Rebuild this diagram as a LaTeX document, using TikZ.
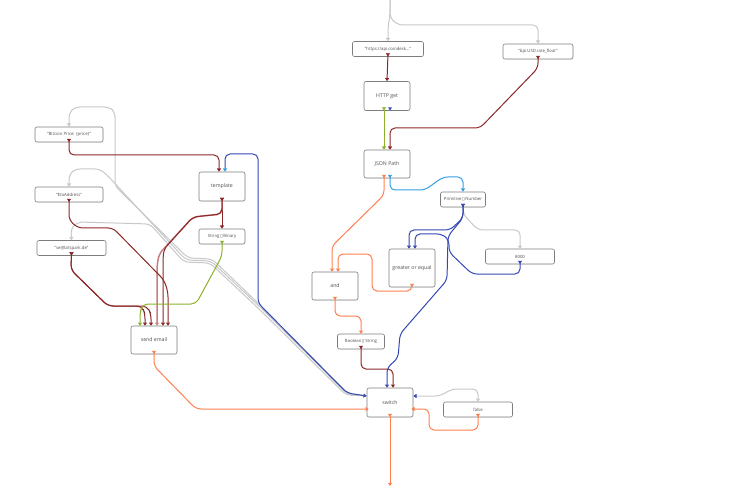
\documentclass[tikz,border=0pt]{standalone}
\usepackage{fontspec}
\setmainfont{Open Sans}
\newfontfamily\glyphfont{DejaVu Sans}
\usetikzlibrary{arrows.meta,shadows}

\definecolor{boxline}{RGB}{125,125,125}
\definecolor{boxtext}{RGB}{80,80,80}
\definecolor{wirered}{RGB}{140,38,38}
\definecolor{wirepink}{RGB}{200,125,125}
\definecolor{wiregreen}{RGB}{140,176,42}
\definecolor{wirecyan}{RGB}{52,160,230}
\definecolor{wireblue}{RGB}{52,72,180}
\definecolor{wireorange}{RGB}{255,127,80}
\definecolor{wiregrey}{RGB}{200,200,200}

\newcommand{\nochar}{{\glyphfont\char"25AF}}

\tikzset{
  block/.style={draw=boxline, fill=white, rounded corners=2pt, line width=0.6pt,
    inner sep=0pt, text=boxtext,
    drop shadow={shadow xshift=0.4pt, shadow yshift=-0.6pt, opacity=0.12}},
  bigblock/.style={block, minimum width=46pt, minimum height=29pt,
    font=\fontsize{5.2}{6}\selectfont},
  smallblock/.style={block, minimum width=69pt, minimum height=15pt,
    font=\fontsize{4.3}{5}\selectfont},
  >={Triangle[length=3.2pt,width=4pt]},
  wire/.style={line width=1pt, rounded corners=5pt, ->},
  owire/.style={wire, >->},
  gwire/.style={wire, draw=wiregrey},
}

\begin{document}
\begin{tikzpicture}[x=1pt, y=-1pt]
\useasboundingbox (0,0) rectangle (754,486);

% blocks
\node[smallblock, minimum width=71pt] (url) at (388,49) {"https://api.coindesk..."};
\node[smallblock, minimum width=70pt] (rate) at (538,51.5) {"bpi.USD.rate\_float"};
\node[bigblock] (httpget) at (387,96) {HTTP get};
\node[bigblock, minimum height=28pt] (json) at (387,164) {JSON Path};
\node[smallblock, minimum width=45pt] (prim) at (463,199.5) {Primitive\,\nochar\,Number};
\node[smallblock] (eight) at (520,256.5) {8000};
\node[bigblock, minimum height=38pt] (gte) at (412,268) {greater or equal};
\node[bigblock, minimum height=28pt] (andn) at (335,286) {and};
\node[smallblock, minimum width=47pt] (b2s) at (361,341.5) {Boolean\,\nochar\,String};
\node[bigblock] (switch) at (390,402.5) {switch};
\node[smallblock] (falsen) at (478,409.5) {false};
\node[smallblock, minimum width=68pt] (bitcoin) at (69,134.5) {"Bitcoin Price: \{price\}"};
\node[smallblock, minimum width=68pt] (toaddr) at (69,194.5) {"\$toAddress"};
\node[smallblock] (fromaddr) at (71.5,248) {"se@bitspark.de"};
\node[bigblock] (template) at (222,186.5) {template};
\node[smallblock, minimum width=46pt] (s2b) at (222,236.5) {String\,\nochar\,Binary};
\node[bigblock, minimum height=28pt] (send) at (154,340) {send email};

\coordinate (feed) at (390,0);

% grey wires
\draw[gwire] (feed) -- (390,15) -- (388,27) -- (url.north);
\draw[gwire] (feed) -- (390,18) -- (398,25) -- (538,25) -- (rate.north);
\draw[gwire] ([yshift=6.5pt]switch.west) -- (347,393) -- (259,304) -- (212,259) -- (188,258)
  -- (115,186) -- (115,112) -- (109,107) -- (75,107) -- (69,113) -- (bitcoin.north);
\draw[gwire] ([yshift=6.5pt]switch.west) -- (347,394) -- (259,306) -- (211,261) -- (186,260)
  -- (108,176) -- (100,169) -- (75,169) -- (69,175) -- (toaddr.north);
\draw[gwire] ([yshift=6.5pt]switch.west) -- (346,395) -- (258,308) -- (210,263) -- (184,262)
  -- (150,224) -- (78,222) -- (71,228) -- (fromaddr.north);
\draw[gwire] ([yshift=3.5pt]prim.south) -- (463,214) -- (478,230) -- (520,230) -- (eight.north);
\draw[gwire, {Triangle[length=3.2pt,width=4pt,color=wireblue]}->]
  ([yshift=6.5pt]switch.east) -- (440,396) -- (452,389) -- (478,389) -- (falsen.north);

% red wires
\draw[owire, wirered] ([yshift=3.5pt]url.south) -- (httpget.north);
\draw[owire, wirered] ([yshift=3.5pt]rate.south) -- (538,68) -- (480,128) -- (390,128) -- ([xshift=3pt]json.north);
\draw[owire, wirered] ([yshift=3.5pt]bitcoin.south) -- (69,155) -- (219,155) -- ([xshift=-3pt]template.north);
\draw[owire, wirered] ([yshift=3.5pt]template.south) -- (s2b.north);
\draw[owire, wirepink, line width=1.5pt] ([yshift=3.5pt]template.south) -- (222,214) -- (193,217) -- (159,254)
  -- (157,266) -- ([xshift=3pt]send.north);
\draw[owire, wirered] ([yshift=3.5pt]template.south) -- (222,214) -- (193,217) -- (164,249)
  -- (163,258) -- ([xshift=9pt]send.north);
\draw[owire, wirered] ([yshift=3.5pt]toaddr.south) -- (69,220) -- (78,228) -- (113,228) -- (164,280)
  -- (168,292) -- ([xshift=14pt]send.north);
\draw[owire, wirered] ([yshift=3.5pt]fromaddr.south) -- (71,270) -- (108,306) -- (142,306)
  -- (145,314) -- ([xshift=-9pt]send.north);
\draw[owire, wirered] ([yshift=3.5pt]fromaddr.south) -- (71,270) -- (108,306) -- (147,306)
  -- (151,314) -- ([xshift=-3pt]send.north);
\draw[owire, wirered] ([yshift=3.5pt]b2s.south) -- (361,369) -- (393,369) -- ([xshift=3pt]switch.north);

% green wires
\draw[owire, wiregreen] ([xshift=-3pt,yshift=3.5pt]httpget.south) -- ([xshift=-3pt]json.north);
\draw[owire, wiregreen] ([yshift=3.5pt]s2b.south) -- (222,256) -- (196,304) -- (143,304)
  -- (140,312) -- ([xshift=-14pt]send.north);
\fill[wireblue] ([xshift=1pt,yshift=3.5pt]httpget.south) -- ([xshift=5pt,yshift=3.5pt]httpget.south)
  -- ([xshift=3pt,yshift=0.3pt]httpget.south) -- cycle;

% blue wires
\draw[owire, wirecyan] ([xshift=3pt,yshift=3.5pt]json.south) -- (390,190) -- (425,190) -- (443,177)
  -- (463,177) -- (prim.north);
\draw[wire, wireblue, {Triangle[length=3.2pt,width=4pt,color=wirecyan]}->]
  ([xshift=3pt]template.north) -- (225,154) -- (258,154) -- (258,303) -- (347,393)
  -- ([yshift=6.5pt]switch.west);
\draw[owire, wireblue] ([yshift=3.5pt]prim.south) -- (463,218) -- (450,230) -- (409,230)
  -- ([xshift=-3pt]gte.north);
\draw[owire, wireblue] ([yshift=3.5pt]eight.south) -- (520,274) -- (472,274) -- (449,252)
  -- (449,240) -- (442,234) -- (415,234) -- ([xshift=3pt]gte.north);
\draw[owire, wireblue] ([yshift=3.5pt]prim.south) -- (463,218) -- (448,236) -- (447,280)
  -- (400,334) -- (398,358) -- (387,368) -- ([xshift=-3pt]switch.north);

% orange wires
\draw[owire, wireorange] ([xshift=-3pt,yshift=3.5pt]json.south) -- (384,195) -- (332,246)
  -- ([xshift=-3pt]andn.north);
\draw[owire, wireorange] ([yshift=3.5pt]gte.south) -- (412,291) -- (372,291) -- (372,254)
  -- (338,254) -- ([xshift=3pt]andn.north);
\draw[owire, wireorange] ([yshift=3.5pt]andn.south) -- (335,316) -- (361,316) -- (b2s.north);
\draw[owire, wireorange] ([yshift=3.5pt]send.south) -- (154,366) -- (196,409)
  -- ([xshift=2pt,yshift=-6.5pt]switch.west);
\draw[owire, wireorange] ([yshift=3.5pt]falsen.south) -- (478,430) -- (429,430) -- (429,409)
  -- ([xshift=-2pt,yshift=-6.5pt]switch.east);
\draw[owire, wireorange] ([yshift=3.5pt]switch.south) -- (390,486);
\end{tikzpicture}
\end{document}
